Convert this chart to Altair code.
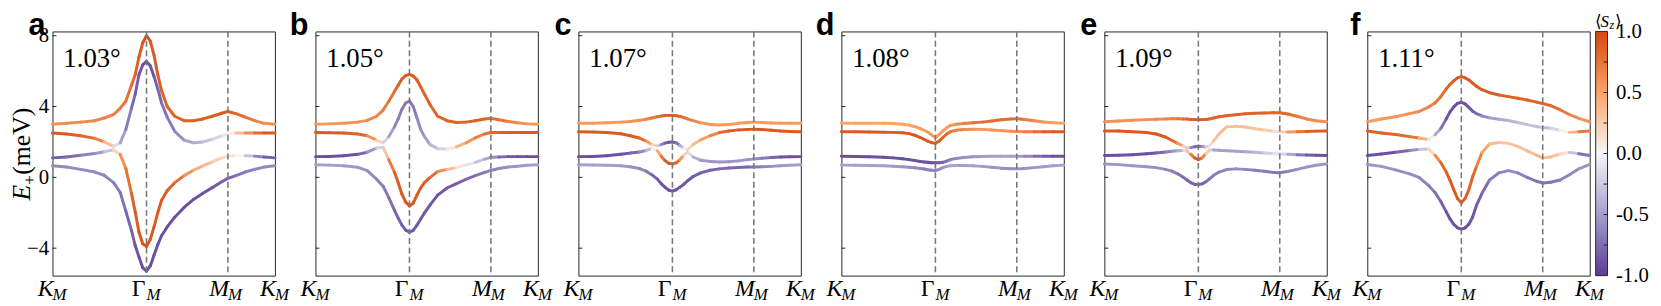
import altair as alt
import pandas as pd

# ---------------- data ----------------
KPATH = [0, 0.15, 0.3, 0.45, 0.55, 0.65, 0.72, 0.78, 0.84, 0.88, 0.92, 0.96, 1.0,
         1.04, 1.08, 1.12, 1.16, 1.22, 1.3, 1.4, 1.5, 1.6, 1.7, 1.8, 1.866,
         1.95, 2.05, 2.15, 2.25, 2.366]
KTICK_POS = [0, 1.0, 1.866, 2.366]
KTICK_MAIN = ["K", "Γ", "M", "K"]
KTICK_SUB = ["M", "M", "M", "M"]
KTICK_ITALIC = [True, False, True, True]
DASHED_K = [1.0, 1.866]
YTICKS = [-4, 0, 4, 8]
LETTERS = ["a", "b", "c", "d", "e", "f"]
ANGLES = ["1.03°", "1.05°", "1.07°", "1.08°", "1.09°", "1.11°"]
CBAR_LIM_LO = [-1.0]
CBAR_LIM_HI = [1.0]
CBAR_LABELS = [-1.0, -0.5, 0.0, 0.5, 1.0]
CBAR_MINOR = [-0.75, -0.5, -0.25, 0.0, 0.25, 0.5, 0.75]
CMAP_DOMAIN = [-1.0, -0.5, 0.0, 0.5, 1.0]
CMAP_COLORS = ["#5b3b97", "#a59fcc", "#f6f5f8", "#fba466", "#d5470c"]

# panel a (1.03°)
E_A1 = [3.0, 3.05, 3.12, 3.2, 3.35, 3.55, 3.9, 4.3, 5.2, 5.8, 6.8, 7.6, 8.0, 7.7, 6.9, 5.8, 4.9, 4.0, 3.45, 3.2, 3.2, 3.3, 3.45, 3.62, 3.72, 3.6, 3.4, 3.2, 3.05, 3.0]
S_A1 = [0.6, 0.62, 0.64, 0.66, 0.68, 0.7, 0.72, 0.75, 0.8, 0.85, 0.88, 0.92, 0.95, 0.92, 0.9, 0.88, 0.86, 0.85, 0.85, 0.85, 0.86, 0.87, 0.88, 0.9, 0.9, 0.85, 0.78, 0.7, 0.64, 0.6]
E_A2 = [2.5, 2.45, 2.35, 2.2, 2.0, 1.75, 1.95, 2.7, 3.9, 4.7, 5.8, 6.35, 6.55, 6.3, 5.7, 5.0, 4.2, 3.4, 2.6, 2.1, 1.95, 2.0, 2.15, 2.35, 2.45, 2.5, 2.5, 2.5, 2.5, 2.5]
S_A2 = [0.9, 0.9, 0.85, 0.8, 0.6, 0.1, -0.4, -0.6, -0.75, -0.8, -0.85, -0.9, -0.9, -0.9, -0.85, -0.8, -0.75, -0.7, -0.65, -0.55, -0.45, -0.35, -0.25, -0.15, -0.05, 0.2, 0.5, 0.75, 0.88, 0.9]
E_A3 = [1.1, 1.15, 1.25, 1.35, 1.45, 1.55, 1.3, 0.5, -0.9, -1.95, -3.1, -3.75, -3.9, -3.5, -2.8, -2.0, -1.3, -0.75, -0.3, 0.1, 0.4, 0.65, 0.88, 1.1, 1.2, 1.22, 1.22, 1.2, 1.15, 1.1]
S_A3 = [-0.85, -0.8, -0.7, -0.6, -0.5, -0.1, 0.5, 0.7, 0.85, 0.88, 0.9, 0.92, 0.95, 0.92, 0.9, 0.9, 0.9, 0.88, 0.85, 0.7, 0.5, 0.4, 0.3, 0.2, 0.15, 0.1, -0.1, -0.5, -0.8, -0.85]
E_A4 = [0.65, 0.58, 0.45, 0.3, 0.12, -0.3, -0.85, -1.9, -3.0, -3.85, -4.5, -5.1, -5.3, -5.0, -4.4, -3.8, -3.3, -2.8, -2.25, -1.7, -1.25, -0.9, -0.58, -0.25, -0.06, 0.1, 0.3, 0.45, 0.58, 0.65]
S_A4 = [-0.6, -0.6, -0.6, -0.6, -0.62, -0.65, -0.7, -0.75, -0.8, -0.85, -0.88, -0.9, -0.9, -0.9, -0.9, -0.9, -0.9, -0.9, -0.9, -0.9, -0.9, -0.88, -0.85, -0.82, -0.8, -0.75, -0.7, -0.65, -0.62, -0.6]

# panel b (1.05°)
E_B1 = [3.0, 3.02, 3.05, 3.12, 3.22, 3.45, 3.8, 4.3, 4.85, 5.2, 5.55, 5.75, 5.82, 5.72, 5.5, 5.1, 4.7, 4.1, 3.45, 3.2, 3.1, 3.12, 3.2, 3.3, 3.33, 3.25, 3.15, 3.08, 3.02, 3.0]
S_B1 = [0.55, 0.56, 0.58, 0.6, 0.62, 0.66, 0.7, 0.75, 0.8, 0.85, 0.88, 0.9, 0.9, 0.9, 0.88, 0.86, 0.85, 0.85, 0.85, 0.85, 0.85, 0.85, 0.85, 0.85, 0.85, 0.8, 0.72, 0.65, 0.58, 0.55]
E_B2 = [2.53, 2.52, 2.5, 2.45, 2.35, 2.1, 1.95, 2.3, 2.85, 3.3, 3.85, 4.2, 4.3, 4.0, 3.35, 2.7, 2.3, 1.85, 1.62, 1.6, 1.72, 1.95, 2.23, 2.45, 2.53, 2.53, 2.53, 2.53, 2.53, 2.53]
S_B2 = [0.9, 0.9, 0.88, 0.85, 0.8, 0.4, 0.0, -0.4, -0.6, -0.65, -0.7, -0.7, -0.7, -0.7, -0.65, -0.6, -0.55, -0.45, -0.3, -0.1, 0.3, 0.5, 0.65, 0.75, 0.8, 0.85, 0.88, 0.9, 0.9, 0.9]
E_B3 = [1.17, 1.18, 1.22, 1.3, 1.42, 1.65, 1.7, 1.0, 0.3, -0.3, -0.95, -1.4, -1.62, -1.45, -1.0, -0.6, -0.3, 0.0, 0.33, 0.45, 0.55, 0.7, 0.85, 1.03, 1.13, 1.15, 1.17, 1.17, 1.17, 1.17]
S_B3 = [-0.9, -0.9, -0.9, -0.88, -0.7, -0.4, 0.0, 0.6, 0.85, 0.88, 0.9, 0.92, 0.95, 0.92, 0.9, 0.9, 0.9, 0.85, 0.75, 0.5, 0.2, 0.0, -0.2, -0.4, -0.5, -0.7, -0.85, -0.9, -0.9, -0.9]
E_B4 = [0.71, 0.69, 0.65, 0.57, 0.38, -0.1, -0.5, -1.15, -1.85, -2.3, -2.7, -2.98, -3.09, -3.0, -2.7, -2.35, -2.0, -1.55, -1.0, -0.6, -0.35, -0.12, 0.1, 0.28, 0.39, 0.5, 0.58, 0.63, 0.68, 0.71]
S_B4 = [-0.5, -0.5, -0.52, -0.55, -0.58, -0.62, -0.68, -0.72, -0.78, -0.8, -0.82, -0.85, -0.85, -0.85, -0.85, -0.85, -0.85, -0.85, -0.85, -0.85, -0.82, -0.78, -0.74, -0.7, -0.68, -0.62, -0.58, -0.55, -0.52, -0.5]

# panel c (1.07°)
E_C1 = [3.05, 3.06, 3.08, 3.12, 3.15, 3.22, 3.28, 3.35, 3.42, 3.46, 3.49, 3.5, 3.5, 3.48, 3.44, 3.38, 3.3, 3.2, 3.08, 2.99, 2.96, 2.98, 3.05, 3.1, 3.12, 3.1, 3.07, 3.05, 3.05, 3.05]
S_C1 = [0.55, 0.55, 0.56, 0.57, 0.58, 0.6, 0.65, 0.7, 0.75, 0.8, 0.85, 0.88, 0.9, 0.88, 0.85, 0.8, 0.75, 0.7, 0.6, 0.55, 0.55, 0.55, 0.55, 0.55, 0.55, 0.55, 0.55, 0.55, 0.55, 0.55]
E_C2 = [2.57, 2.56, 2.53, 2.46, 2.35, 2.22, 2.05, 1.86, 1.78, 1.85, 1.93, 1.98, 2.0, 1.95, 1.8, 1.65, 1.55, 1.85, 2.12, 2.35, 2.53, 2.62, 2.68, 2.71, 2.72, 2.7, 2.66, 2.62, 2.59, 2.57]
S_C2 = [0.9, 0.9, 0.9, 0.9, 0.9, 0.88, 0.7, 0.4, 0.0, -0.5, -0.8, -0.85, -0.85, -0.8, -0.6, -0.2, 0.1, 0.3, 0.45, 0.6, 0.75, 0.85, 0.9, 0.9, 0.9, 0.9, 0.9, 0.9, 0.9, 0.9]
E_C3 = [1.17, 1.18, 1.22, 1.3, 1.37, 1.43, 1.52, 1.62, 1.5, 1.2, 0.95, 0.8, 0.76, 0.82, 1.0, 1.25, 1.42, 1.15, 0.97, 0.9, 0.87, 0.88, 0.93, 1.0, 1.04, 1.08, 1.12, 1.15, 1.16, 1.17]
S_C3 = [-0.9, -0.9, -0.9, -0.88, -0.85, -0.7, -0.5, -0.2, 0.3, 0.7, 0.85, 0.88, 0.9, 0.85, 0.75, 0.4, 0.0, -0.35, -0.5, -0.55, -0.55, -0.55, -0.55, -0.55, -0.58, -0.65, -0.75, -0.85, -0.9, -0.9]
E_C4 = [0.71, 0.7, 0.68, 0.65, 0.6, 0.5, 0.35, 0.15, -0.1, -0.35, -0.55, -0.72, -0.78, -0.7, -0.55, -0.4, -0.2, 0.05, 0.25, 0.4, 0.48, 0.53, 0.56, 0.58, 0.58, 0.6, 0.62, 0.65, 0.68, 0.71]
S_C4 = [-0.5, -0.5, -0.5, -0.52, -0.55, -0.6, -0.65, -0.75, -0.85, -0.85, -0.88, -0.9, -0.9, -0.88, -0.85, -0.85, -0.85, -0.85, -0.82, -0.8, -0.78, -0.78, -0.78, -0.78, -0.75, -0.65, -0.58, -0.55, -0.52, -0.5]

# panel d (1.08°)
E_D1 = [3.05, 3.05, 3.05, 3.05, 3.04, 3.0, 2.95, 2.86, 2.75, 2.66, 2.55, 2.4, 2.25, 2.42, 2.62, 2.8, 2.93, 3.0, 3.04, 3.08, 3.12, 3.18, 3.25, 3.3, 3.31, 3.27, 3.2, 3.13, 3.08, 3.05]
S_D1 = [0.5, 0.5, 0.5, 0.5, 0.5, 0.5, 0.5, 0.52, 0.55, 0.55, 0.55, 0.55, 0.55, 0.55, 0.55, 0.55, 0.55, 0.6, 0.68, 0.75, 0.78, 0.8, 0.8, 0.8, 0.8, 0.75, 0.65, 0.58, 0.52, 0.5]
E_D2 = [2.57, 2.57, 2.56, 2.55, 2.54, 2.52, 2.47, 2.38, 2.25, 2.15, 2.04, 1.96, 1.92, 2.05, 2.25, 2.45, 2.58, 2.66, 2.7, 2.72, 2.71, 2.68, 2.64, 2.6, 2.59, 2.58, 2.57, 2.57, 2.57, 2.57]
S_D2 = [0.9, 0.9, 0.9, 0.9, 0.9, 0.9, 0.9, 0.9, 0.9, 0.9, 0.9, 0.9, 0.9, 0.88, 0.85, 0.82, 0.78, 0.72, 0.65, 0.6, 0.58, 0.58, 0.58, 0.6, 0.6, 0.65, 0.75, 0.85, 0.9, 0.9]
E_D3 = [1.19, 1.18, 1.16, 1.13, 1.1, 1.05, 1.0, 0.95, 0.9, 0.87, 0.85, 0.83, 0.82, 0.82, 0.85, 0.92, 1.0, 1.07, 1.12, 1.16, 1.18, 1.19, 1.19, 1.19, 1.19, 1.19, 1.19, 1.19, 1.19, 1.19]
S_D3 = [-0.9, -0.9, -0.9, -0.9, -0.9, -0.9, -0.9, -0.88, -0.88, -0.88, -0.88, -0.88, -0.88, -0.85, -0.8, -0.75, -0.68, -0.62, -0.58, -0.55, -0.52, -0.5, -0.5, -0.5, -0.5, -0.55, -0.7, -0.82, -0.88, -0.9]
E_D4 = [0.69, 0.68, 0.67, 0.65, 0.63, 0.6, 0.57, 0.54, 0.5, 0.47, 0.43, 0.4, 0.39, 0.45, 0.55, 0.62, 0.66, 0.67, 0.67, 0.65, 0.62, 0.57, 0.52, 0.49, 0.48, 0.5, 0.55, 0.6, 0.65, 0.69]
S_D4 = [-0.5, -0.5, -0.5, -0.5, -0.52, -0.55, -0.58, -0.6, -0.62, -0.65, -0.65, -0.65, -0.65, -0.6, -0.55, -0.52, -0.5, -0.5, -0.5, -0.5, -0.52, -0.55, -0.58, -0.6, -0.6, -0.58, -0.55, -0.52, -0.5, -0.5]

# panel e (1.09°)
E_E1 = [3.14, 3.18, 3.22, 3.26, 3.28, 3.3, 3.31, 3.31, 3.3, 3.29, 3.27, 3.26, 3.26, 3.26, 3.27, 3.3, 3.35, 3.42, 3.48, 3.54, 3.59, 3.62, 3.64, 3.65, 3.65, 3.58, 3.45, 3.3, 3.2, 3.14]
S_E1 = [0.6, 0.6, 0.6, 0.6, 0.62, 0.65, 0.68, 0.72, 0.78, 0.82, 0.86, 0.88, 0.9, 0.88, 0.86, 0.85, 0.85, 0.85, 0.85, 0.85, 0.85, 0.85, 0.85, 0.85, 0.85, 0.82, 0.75, 0.68, 0.62, 0.6]
E_E2 = [2.62, 2.62, 2.58, 2.53, 2.45, 2.28, 2.08, 1.92, 1.77, 1.65, 1.68, 1.73, 1.75, 1.74, 1.72, 1.78, 2.05, 2.45, 2.85, 2.88, 2.84, 2.75, 2.67, 2.6, 2.57, 2.56, 2.57, 2.59, 2.61, 2.62]
S_E2 = [0.9, 0.9, 0.9, 0.9, 0.9, 0.9, 0.88, 0.7, 0.4, 0.0, -0.5, -0.75, -0.8, -0.7, -0.4, 0.0, 0.3, 0.35, 0.35, 0.35, 0.35, 0.32, 0.28, 0.2, 0.1, 0.4, 0.7, 0.85, 0.9, 0.9]
E_E3 = [1.23, 1.25, 1.28, 1.33, 1.38, 1.43, 1.47, 1.5, 1.52, 1.48, 1.3, 1.1, 1.0, 1.1, 1.35, 1.55, 1.55, 1.53, 1.5, 1.48, 1.45, 1.42, 1.38, 1.34, 1.32, 1.3, 1.28, 1.26, 1.25, 1.23]
S_E3 = [-0.9, -0.9, -0.9, -0.9, -0.88, -0.7, -0.6, -0.5, -0.3, 0.0, 0.6, 0.85, 0.9, 0.85, 0.5, 0.0, -0.45, -0.5, -0.5, -0.5, -0.48, -0.4, -0.3, -0.15, -0.1, -0.3, -0.6, -0.8, -0.88, -0.9]
E_E4 = [0.76, 0.72, 0.66, 0.6, 0.55, 0.45, 0.35, 0.2, 0.0, -0.15, -0.3, -0.39, -0.41, -0.37, -0.25, -0.08, 0.1, 0.3, 0.44, 0.48, 0.45, 0.4, 0.34, 0.28, 0.26, 0.33, 0.45, 0.58, 0.68, 0.76]
S_E4 = [-0.55, -0.55, -0.55, -0.56, -0.58, -0.6, -0.65, -0.7, -0.75, -0.78, -0.8, -0.8, -0.8, -0.8, -0.78, -0.72, -0.68, -0.65, -0.62, -0.6, -0.62, -0.65, -0.68, -0.7, -0.7, -0.65, -0.6, -0.57, -0.55, -0.55]

# panel f (1.11°)
E_F1 = [3.14, 3.3, 3.42, 3.6, 3.72, 3.97, 4.2, 4.55, 5.0, 5.25, 5.45, 5.62, 5.69, 5.62, 5.5, 5.32, 5.15, 4.95, 4.78, 4.65, 4.56, 4.47, 4.37, 4.25, 4.17, 4.05, 3.82, 3.55, 3.33, 3.14]
S_F1 = [0.55, 0.56, 0.58, 0.6, 0.63, 0.68, 0.72, 0.76, 0.82, 0.86, 0.88, 0.9, 0.9, 0.9, 0.9, 0.9, 0.9, 0.9, 0.88, 0.87, 0.86, 0.85, 0.85, 0.85, 0.85, 0.83, 0.78, 0.7, 0.62, 0.55]
E_F2 = [2.62, 2.5, 2.42, 2.3, 2.22, 2.13, 2.4, 2.75, 3.3, 3.7, 3.98, 4.18, 4.24, 4.15, 3.95, 3.74, 3.6, 3.47, 3.36, 3.28, 3.21, 3.1, 2.98, 2.87, 2.81, 2.77, 2.66, 2.54, 2.58, 2.62]
S_F2 = [0.85, 0.85, 0.85, 0.82, 0.7, 0.2, -0.3, -0.6, -0.85, -0.88, -0.9, -0.9, -0.9, -0.9, -0.88, -0.85, -0.8, -0.7, -0.55, -0.45, -0.4, -0.35, -0.3, -0.3, -0.35, -0.3, -0.1, 0.2, 0.6, 0.85]
E_F3 = [1.23, 1.32, 1.42, 1.52, 1.58, 1.6, 1.25, 0.85, 0.3, -0.17, -0.7, -1.2, -1.43, -1.2, -0.7, 0.02, 0.6, 1.4, 1.88, 1.97, 1.92, 1.75, 1.5, 1.25, 1.1, 1.15, 1.32, 1.41, 1.33, 1.23]
S_F3 = [-0.9, -0.9, -0.9, -0.7, -0.5, -0.1, 0.5, 0.8, 0.85, 0.88, 0.9, 0.9, 0.9, 0.88, 0.85, 0.85, 0.8, 0.6, 0.4, 0.3, 0.3, 0.32, 0.35, 0.38, 0.4, 0.35, 0.3, 0.0, -0.6, -0.85]
E_F4 = [0.73, 0.62, 0.42, 0.2, 0.0, -0.45, -0.85, -1.35, -1.95, -2.35, -2.65, -2.85, -2.92, -2.85, -2.65, -2.25, -1.6, -0.9, -0.15, 0.25, 0.38, 0.25, 0.0, -0.22, -0.32, -0.28, -0.15, 0.15, 0.48, 0.73]
S_F4 = [-0.55, -0.55, -0.58, -0.6, -0.62, -0.65, -0.7, -0.78, -0.85, -0.88, -0.9, -0.9, -0.9, -0.9, -0.88, -0.86, -0.85, -0.8, -0.72, -0.65, -0.6, -0.62, -0.68, -0.72, -0.75, -0.72, -0.68, -0.62, -0.58, -0.55]

PANEL_E = [[E_A1, E_A2, E_A3, E_A4], [E_B1, E_B2, E_B3, E_B4], [E_C1, E_C2, E_C3, E_C4],
           [E_D1, E_D2, E_D3, E_D4], [E_E1, E_E2, E_E3, E_E4], [E_F1, E_F2, E_F3, E_F4]]
PANEL_S = [[S_A1, S_A2, S_A3, S_A4], [S_B1, S_B2, S_B3, S_B4], [S_C1, S_C2, S_C3, S_C4],
           [S_D1, S_D2, S_D3, S_D4], [S_E1, S_E2, S_E3, S_E4], [S_F1, S_F2, S_F3, S_F4]]

# ---------------- styling ----------------
SERIF = "Liberation Serif"
SANS = "Liberation Sans"
W, H = 225, 247
FRAME = "#262626"
XS = alt.Scale(domain=[0, 2.366], nice=False, zero=False)
YS = alt.Scale(domain=[-5.55, 8.24], nice=False, zero=False)
CS = alt.Scale(domain=CMAP_DOMAIN, range=CMAP_COLORS, interpolate="rgb")
CB = alt.Scale(domain=[-1, 1], nice=False, zero=False)


def segments(E, S):
    rows = []
    for b in range(4):
        for j in range(len(KPATH) - 1):
            rows.append({"band": b, "k1": KPATH[j], "k2": KPATH[j + 1],
                         "e1": E[b][j], "e2": E[b][j + 1],
                         "s": 0.5 * (S[b][j] + S[b][j + 1])})
    return pd.DataFrame(rows)


xlab = pd.DataFrame({"k": KTICK_POS, "main": KTICK_MAIN, "sub": KTICK_SUB, "it": KTICK_ITALIC})


def text_layer(txt, x, y, size, style="normal", font=SERIF, weight="normal", align="left", angle=0):
    return alt.Chart(pd.DataFrame({"t": [txt]})).mark_text(
        font=font, fontSize=size, fontStyle=style, fontWeight=weight, align=align,
        baseline="alphabetic", angle=angle, color="black"
    ).encode(x=alt.value(x), y=alt.value(y), text="t:N")


def panel(i):
    seg = segments(PANEL_E[i], PANEL_S[i])
    if i == 0:
        yaxis = alt.Axis(values=YTICKS, ticks=False, domain=False, grid=False, title=None,
                         labelFont=SERIF, labelFontSize=21, labelPadding=4, labelColor="black")
    else:
        yaxis = None
    bands = alt.Chart(seg).mark_rule(strokeWidth=3, strokeCap="round").encode(
        x=alt.X("k1:Q", scale=XS, axis=None), x2="k2:Q",
        y=alt.Y("e1:Q", scale=YS, axis=yaxis), y2="e2:Q",
        color=alt.Color("s:Q", scale=CS, legend=None),
    )
    dash = alt.Chart(pd.DataFrame({"k": DASHED_K})).mark_rule(
        color="#7a7a7a", strokeWidth=1.6, strokeDash=[6, 3.5]
    ).encode(x=alt.X("k:Q", scale=XS, axis=None))
    yt = alt.Chart(pd.DataFrame({"v": YTICKS})).mark_rule(color=FRAME, strokeWidth=1).encode(
        y=alt.Y("v:Q", scale=YS, axis=yaxis), x=alt.value(0), x2=alt.value(4))
    main_it = alt.Chart(xlab[xlab["it"]]).mark_text(
        font=SERIF, fontSize=24, fontStyle="italic", align="right", baseline="alphabetic", dx=1,
        color="black"
    ).encode(x=alt.X("k:Q", scale=XS, axis=None), y=alt.value(H + 21), text="main:N")
    main_up = alt.Chart(xlab[~xlab["it"]]).mark_text(
        font=SERIF, fontSize=24, align="right", baseline="alphabetic", dx=-1, color="black"
    ).encode(x=alt.X("k:Q", scale=XS, axis=None), y=alt.value(H + 21), text="main:N")
    sub = alt.Chart(xlab).mark_text(
        font=SERIF, fontSize=17, fontStyle="italic", align="left", baseline="alphabetic", dx=0,
        color="black"
    ).encode(x=alt.X("k:Q", scale=XS, axis=None), y=alt.value(H + 25), text="sub:N")
    ang = text_layer(ANGLES[i], 11, 36, 27)
    let = text_layer(LETTERS[i], -7, 4, 31, font=SANS, weight="bold", align="right")
    layers = [bands, dash, yt, main_it, main_up, sub, ang, let]
    if i == 0:
        layers += [text_layer("E", -23, 171, 26, style="italic", angle=270),
                   text_layer("+", -18, 155, 17, angle=270),
                   text_layer("(meV)", -23, 145, 26, angle=270)]
    energy = alt.layer(*layers)
    if i < 5:
        return energy.properties(width=W, height=H)

    # colour bar attached to the last panel
    grad = {"gradient": "linear", "x1": 0, "y1": 1, "x2": 0, "y2": 0,
            "stops": [{"offset": (d + 1) / 2, "color": c} for d, c in zip(CMAP_DOMAIN, CMAP_COLORS)]}
    cb_axis = alt.Axis(
        orient="right", offset=18, values=CBAR_LABELS, ticks=False, domain=False, grid=False,
        title=None, labelFont=SERIF, labelFontSize=21, labelPadding=8, labelColor="black",
        labelExpr="replace(format(datum.value, '.1f'), '\u2212', '-')")
    cbar_rect = alt.Chart(pd.DataFrame({"lo": CBAR_LIM_LO, "hi": CBAR_LIM_HI})).mark_rect(
        fill=grad, stroke=FRAME, strokeWidth=1
    ).encode(
        x=alt.value(W + 6), x2=alt.value(W + 18),
        y=alt.Y("lo:Q", scale=CB, axis=cb_axis), y2="hi:Q",
    )
    cbar_ticks = alt.Chart(pd.DataFrame({"v": CBAR_MINOR})).mark_rule(color=FRAME, strokeWidth=1).encode(
        y=alt.Y("v:Q", scale=CB, axis=cb_axis), x=alt.value(W + 14), x2=alt.value(W + 18))
    cbar = alt.layer(cbar_rect, cbar_ticks)
    tt = [text_layer("⟨", W + 5, -5, 17),
          text_layer("S", W + 11, -5, 17, style="italic"),
          text_layer("z", W + 20, -2, 12, style="italic"),
          text_layer("⟩", W + 26, -5, 17)]
    return alt.layer(energy, cbar, *tt).resolve_scale(y="independent").properties(width=W, height=H)


panels = [panel(i) for i in range(6)]
chart = alt.hconcat(*panels, spacing=41, bounds="flush").resolve_scale(
    x="independent", y="independent", color="independent"
).properties(
    padding={"left": 0, "top": 0, "right": 4, "bottom": 0},
).configure_view(stroke=FRAME, strokeWidth=1)

chart.save("out.html", embed_options={"renderer": "svg", "actions": False})
